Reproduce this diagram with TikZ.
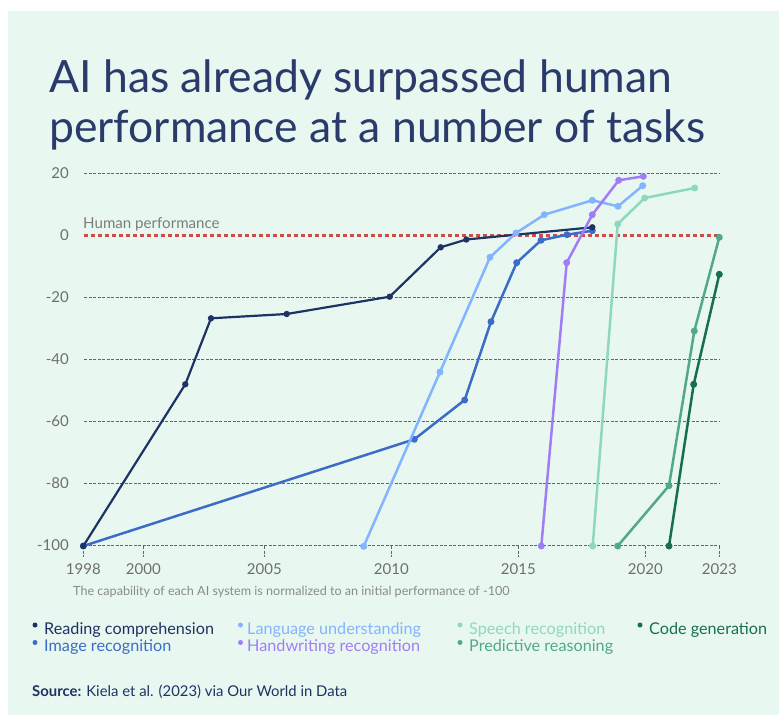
\documentclass[tikz,border=0pt]{standalone}
\usepackage{fontspec}
\setmainfont{Lato}
\newfontfamily\titlefont{Lato}
\usetikzlibrary{calc}
\definecolor{bgc}{HTML}{E8F8F1}
\definecolor{titlecol}{HTML}{2A3B6B}
\definecolor{rcc}{HTML}{1E3264}
\definecolor{irc}{HTML}{3C6CC5}
\definecolor{luc}{HTML}{82B4FF}
\definecolor{hwc}{HTML}{A17DF5}
\definecolor{src}{HTML}{8ED8BE}
\definecolor{prc}{HTML}{52A887}
\definecolor{cgc}{HTML}{17704C}
\definecolor{redc}{HTML}{CD4B4B}
\definecolor{gridc}{HTML}{666666}
\definecolor{labc}{HTML}{6E6E6E}
\definecolor{notec}{HTML}{8A8A8A}
\tikzset{
  gridline/.style={draw=gridc, line width=1pt, dash pattern=on 3pt off 1.5pt},
  humanline/.style={draw=redc, line width=3pt, dash pattern=on 4pt off 3pt},
  series/.style={line width=2.5pt, line join=round, line cap=round},
  ylab/.style={anchor=east, text=labc, font=\fontsize{15}{15}\selectfont, inner sep=0pt},
  xlab/.style={anchor=base, text=labc, font=\fontsize{15}{15}\selectfont, inner sep=0pt},
  legtext/.style={anchor=base west, font=\fontsize{16.2}{16.2}\selectfont, inner sep=0pt},
  titletext/.style={anchor=base west, inner sep=0pt, text=titlecol, font=\titlefont\fontsize{44.5}{44.5}\selectfont},
}
\begin{document}
\begin{tikzpicture}[x=1pt,y=-1pt]
\useasboundingbox (0,0) rectangle (779,715);
\fill[bgc] (8,11) rectangle (779,715);
% title
\node[titletext] (t1) at (49,92) {AI has already surpassed human};
\node[titletext] (t2) at (49,142) {performance at a number of tasks};
% gridlines
\foreach \yy in {173,297,359,421,483,545}{
  \coordinate (gl\yy) at (84,\yy);
  \coordinate (gr\yy) at (719,\yy);
  \draw[gridline] (gl\yy) -- (gr\yy);
}
% x ticks
\foreach \xx in {83.3,143.3,264.3,391.3,518.3,645.3,719.3}{
  \coordinate (tt) at (\xx,546);
  \coordinate (tb) at (\xx,557);
  \draw[gridline] (tt) -- (tb);
}
% y labels
\node[ylab] (y20) at (69,173) {20};
\node[ylab] (y0) at (69,235) {0};
\node[ylab] (ym20) at (69,297) {-20};
\node[ylab] (ym40) at (69,359) {-40};
\node[ylab] (ym60) at (69,421) {-60};
\node[ylab] (ym80) at (69,483) {-80};
\node[ylab] (ym100) at (69,545) {-100};
% x labels
\node[xlab] (x1998) at (83.3,574) {1998};
\node[xlab] (x2000) at (143.3,574) {2000};
\node[xlab] (x2005) at (264.3,574) {2005};
\node[xlab] (x2010) at (391.3,574) {2010};
\node[xlab] (x2015) at (518.3,574) {2015};
\node[xlab] (x2020) at (645.3,574) {2020};
\node[xlab] (x2023) at (719.3,574) {2023};
% human performance
\coordinate (hl) at (84,235);
\coordinate (hr) at (719,235);
\draw[humanline] (hl) -- (hr);
\node[anchor=base west, inner sep=0pt, text=labc!90!white, font=\fontsize{15.1}{15.1}\selectfont] (hp) at (83,228) {Human performance};
% note
\node[anchor=base west, inner sep=0pt, text=notec, font=\fontsize{12.6}{12.6}\selectfont] (note) at (73,595) {The capability of each AI system is normalized to an initial performance of -100};
% data: image recognition
\coordinate (ir1) at (83.3,546);
\coordinate (ir2) at (414.3,439.3);
\coordinate (ir3) at (464.7,400);
\coordinate (ir4) at (491,321.7);
\coordinate (ir5) at (516.7,262.7);
\coordinate (ir6) at (541,240.3);
\coordinate (ir7) at (567,234.7);
\coordinate (ir8) at (592.3,230.7);
\draw[series, irc] (ir1)--(ir2)--(ir3)--(ir4)--(ir5)--(ir6)--(ir7)--(ir8);
\foreach \p in {ir1,ir2,ir3,ir4,ir5,ir6,ir7,ir8}{\fill[irc] (\p) circle[radius=3.5];}
% reading comprehension
\coordinate (rc1) at (83.3,546);
\coordinate (rc2) at (185.3,384.3);
\coordinate (rc3) at (211,318.3);
\coordinate (rc4) at (286.7,314);
\coordinate (rc5) at (389.7,296.7);
\coordinate (rc6) at (440.7,247.3);
\coordinate (rc7) at (466.3,239.5);
\coordinate (rc8) at (592.3,227.3);
\draw[series, rcc, line width=2.2pt] (rc1)--(rc2)--(rc3)--(rc4)--(rc5)--(rc6)--(rc7)--(rc8);
\foreach \p in {rc1,rc2,rc3,rc4,rc5,rc6,rc7,rc8}{\fill[rcc] (\p) circle[radius=3.2];}
% language understanding
\coordinate (lu1) at (363.7,546.3);
\coordinate (lu2) at (440,372);
\coordinate (lu3) at (490,257.3);
\coordinate (lu4) at (516,233);
\coordinate (lu5) at (544.3,214.7);
\coordinate (lu6) at (592.3,200.3);
\coordinate (lu7) at (618,206.3);
\coordinate (lu8) at (642.7,185.7);
\draw[series, luc] (lu1)--(lu2)--(lu3)--(lu4)--(lu5)--(lu6)--(lu7)--(lu8);
\foreach \p in {lu1,lu2,lu3,lu4,lu5,lu6,lu7,lu8}{\fill[luc] (\p) circle[radius=3.5];}
% handwriting
\coordinate (hw1) at (541.3,546);
\coordinate (hw2) at (566.7,262.7);
\coordinate (hw3) at (592.3,214.7);
\coordinate (hw4) at (618.7,180.3);
\coordinate (hw5) at (643.3,176.3);
\draw[series, hwc] (hw1)--(hw2)--(hw3)--(hw4)--(hw5);
\foreach \p in {hw1,hw2,hw3,hw4,hw5}{\fill[hwc] (\p) circle[radius=3.5];}
% speech
\coordinate (sr1) at (592.7,546);
\coordinate (sr2) at (617.7,224);
\coordinate (sr3) at (644.7,198);
\coordinate (sr4) at (694.7,188);
\draw[series, src] (sr1)--(sr2)--(sr3)--(sr4);
\foreach \p in {sr1,sr2,sr3,sr4}{\fill[src] (\p) circle[radius=3.5];}
% predictive reasoning
\coordinate (pr1) at (617.7,546);
\coordinate (pr2) at (669,485.7);
\coordinate (pr3) at (694.3,331);
\coordinate (pr4) at (719.3,237.3);
\draw[series, prc] (pr1)--(pr2)--(pr3)--(pr4);
\foreach \p in {pr1,pr2,pr3,pr4}{\fill[prc] (\p) circle[radius=3.5];}
% code generation
\coordinate (cg1) at (669,546);
\coordinate (cg2) at (693.7,384.3);
\coordinate (cg3) at (719.3,274.3);
\draw[series, cgc] (cg1)--(cg2)--(cg3);
\foreach \p in {cg1,cg2,cg3}{\fill[cgc] (\p) circle[radius=3.5];}
% legend
\fill[rcc] (35,625) circle[radius=2.5];
\node[legtext, text=rcc] (l1) at (44,634.5) {Reading comprehension};
\fill[irc] (35,642.5) circle[radius=2.5];
\node[legtext, text=irc] (l2) at (44,651.5) {Image recognition};
\fill[luc] (240.5,625) circle[radius=2.5];
\node[legtext, text=luc] (l3) at (247,634.5) {Language understanding};
\fill[hwc] (240.5,642.5) circle[radius=2.5];
\node[legtext, text=hwc] (l4) at (247,651.5) {Handwriting recognition};
\fill[src] (460,625) circle[radius=2.5];
\node[legtext, text=src] (l5) at (469,634.5) {Speech recognition};
\fill[prc] (460,642.5) circle[radius=2.5];
\node[legtext, text=prc] (l6) at (469,651.5) {Predictive reasoning};
\fill[cgc] (640,625) circle[radius=2.5];
\node[legtext, text=cgc] (l7) at (649,634.5) {Code generation};
% source
\node[legtext, text=rcc, font=\fontsize{14.85}{14.85}\selectfont] (srcnote) at (32,696) {\textbf{Source:} Kiela et al. (2023) via Our World in Data};
\end{tikzpicture}
\end{document}
